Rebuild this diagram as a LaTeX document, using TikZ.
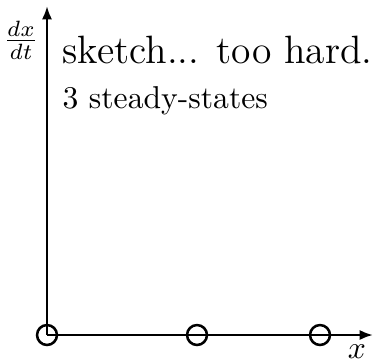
\documentclass[tikz,border=0pt]{standalone}
\usetikzlibrary{arrows.meta}
\tikzset{steady/.style={draw, circle, thick, minimum size=6.3pt, inner sep=0pt}}
\begin{document}
\begin{tikzpicture}[x=0.315bp, y=0.315bp]
  \useasboundingbox (0, 0) rectangle (373, 362);
  \coordinate (O) at (47, 27);
  \coordinate (ytop) at (47, 356);
  \coordinate (xend) at (373, 27);
  \draw[thick, -{Latex[length=4.2pt, width=3.2pt]}] (O) -- (ytop);
  \draw[thick, -{Latex[length=4.2pt, width=3.2pt]}] (O) -- (xend);
  \node[steady] (ss1) at (47, 27) {};
  \node[steady] (ss2) at (197, 27) {};
  \node[steady] (ss3) at (320, 27) {};
  \node (xlab) at (357, 10) {$x$};
  \node (ylab) at (21, 322) {$\frac{dx}{dt}$};
  \node[anchor=base west, inner sep=0pt] (title) at (62, 299)
    {\fontsize{12.5pt}{15pt}\selectfont sketch... too hard.};
  \node[anchor=base west, inner sep=0pt] (note) at (62, 254) {3 steady-states};
\end{tikzpicture}
\end{document}
